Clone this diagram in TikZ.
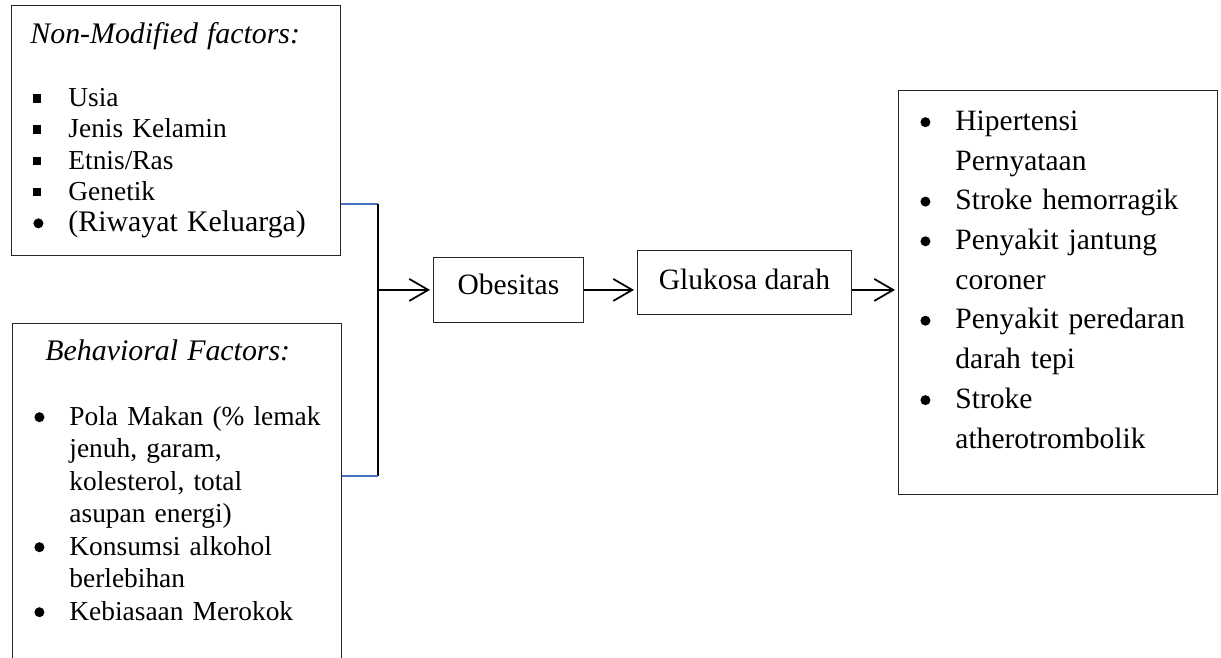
\documentclass[tikz,border=0pt]{standalone}
\usepackage{fontspec}
\setmainfont{Liberation Serif}
\usetikzlibrary{arrows.meta, positioning, calc}
\definecolor{linkblue}{RGB}{68,114,196}
\newcommand{\sqbullet}{\raisebox{0.08cm}{\rule{0.16cm}{0.17cm}}}
\newcommand{\rdbullet}{\raisebox{0.065cm}{\tikz\fill (0,0) circle (0.1cm);}}
\newcommand{\boxtitle}{\fontsize{17}{17.8}\selectfont\itshape}

\begin{document}
\begin{tikzpicture}[x=0.02cm, y=-0.02cm,
    factorbox/.style={rectangle, draw=black!85, line width=0.5pt, inner sep=0pt, anchor=north west, align=left},
    flowbox/.style={rectangle, draw=black!85, line width=0.5pt, inner sep=0pt, anchor=north west, font={\fontsize{16.8}{20}\selectfont}},
    flowarrow/.style={-{Straight Barb[length=0.38cm, width=0.44cm]}, line width=1pt, shorten >=0.06cm}
]
\useasboundingbox (0,0) rectangle (1221,658);

\node[factorbox, text width=6.58cm, text height=0.76cm, text depth=4.24cm, font={\fontsize{15.6}{17.8}\selectfont}] (nonmod) at (11,5) {%
\hspace*{0.38cm}{\boxtitle Non-Modified factors:}\\[18.1pt]
\hspace*{0.44cm}\makebox[0.70cm][l]{\sqbullet}Usia\\
\hspace*{0.44cm}\makebox[0.70cm][l]{\sqbullet}Jenis Kelamin\\
\hspace*{0.44cm}\makebox[0.70cm][l]{\sqbullet}Etnis/Ras\\
\hspace*{0.44cm}\makebox[0.70cm][l]{\sqbullet}Genetik\\
\hspace*{0.44cm}{\fontsize{17}{17.8}\selectfont\makebox[0.70cm][l]{\rdbullet}(Riwayat Keluarga)}};

\node[factorbox, text width=6.58cm, text height=0.74cm, text depth=6.8cm, font={\fontsize{15.6}{18.5}\selectfont}] (behav) at (12,323) {%
\hspace*{0.66cm}{\boxtitle Behavioral Factors:}\\[18.5pt]
\hspace*{0.44cm}\makebox[0.70cm][l]{\rdbullet}Pola Makan (\% lemak\\
\hspace*{1.14cm}jenuh, garam,\\
\hspace*{1.14cm}kolesterol, total\\
\hspace*{1.14cm}asupan energi)\\
\hspace*{0.44cm}\makebox[0.70cm][l]{\rdbullet}Konsumsi alkohol\\
\hspace*{1.14cm}berlebihan\\
\hspace*{0.44cm}\makebox[0.70cm][l]{\rdbullet}Kebiasaan Merokok};

\node[flowbox, minimum width=3cm, text height=0.74cm, text depth=0.56cm] (obes) at (433,257) {Obesitas};
\node[flowbox, minimum width=4.28cm, text height=0.78cm, text depth=0.5cm] (gluk) at (637,250) {Glukosa darah};

\node[factorbox, text width=6.38cm, text height=0.8cm, text depth=7.28cm, font={\fontsize{16.8}{22.6}\selectfont}] (effects) at (898,90) {%
\hspace*{0.44cm}\makebox[0.70cm][l]{\rdbullet}Hipertensi\\
\hspace*{1.14cm}Pernyataan\\
\hspace*{0.44cm}\makebox[0.70cm][l]{\rdbullet}Stroke hemorragik\\
\hspace*{0.44cm}\makebox[0.70cm][l]{\rdbullet}Penyakit jantung\\
\hspace*{1.14cm}coroner\\
\hspace*{0.44cm}\makebox[0.70cm][l]{\rdbullet}Penyakit peredaran\\
\hspace*{1.14cm}darah tepi\\
\hspace*{0.44cm}\makebox[0.70cm][l]{\rdbullet}Stroke\\
\hspace*{1.14cm}atherotrombolik};

% bracket joining both factor boxes
\coordinate (brtop) at (378,204);
\coordinate (brbot) at (378,476);
\draw[linkblue, line width=0.6pt] (brtop -| nonmod.east) -- (brtop);
\draw[line width=0.8pt] (brtop) -- (brbot);
\draw[linkblue, line width=0.6pt] (brbot -| behav.east) -- (brbot);

\draw[flowarrow] (brtop |- obes) -- (obes.west);
\draw[flowarrow] (obes.east) -- (obes.east -| gluk.west);
\draw[flowarrow] (gluk.east |- obes) -- (obes -| effects.west);
\end{tikzpicture}
\end{document}
